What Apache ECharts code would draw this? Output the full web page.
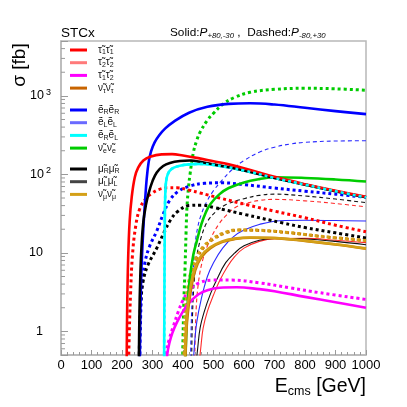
<!DOCTYPE html>
<html><head><meta charset="utf-8">
<script src="https://cdn.jsdelivr.net/npm/echarts@6/dist/echarts.min.js"></script>
<style>html,body{margin:0;padding:0;background:#fff}#c{width:407px;height:407px}</style>
</head><body><div id="c"></div>
<script>
// [E_cms (GeV), sigma (fb)] ; Pos = P(+80,-30) solid, Neg = P(-80,+30) dashed
const stau11Pos = [[215,0.3],[217,2],[220,8],[225,25],[232,52],[242,92],[253,122],[270,150],[292,168],[330,180],[364,181],[400,174],[450,161],[500,147],[550,134],[600,120],[700,93],[800,75],[900,62],[1000,52]];
const stau11Neg = [[221,0.3],[224,1],[228,3],[234,9],[245,22],[259,37],[280,50],[300,58],[320,64],[350,67.5],[380,67.5],[420,63],[456,58],[520,50],[610,41],[700,34],[800,28],[900,22.5],[1000,18.6]];
const stau22Pos = [[450,0.3],[458,0.6],[466,1.1],[480,1.8],[500,2.9],[520,4.4],[545,6.6],[570,9],[600,11.5],[650,14],[700,15.2],[800,15.3],[900,14.5],[1000,13.5]];
const stau22Neg = [[438,0.3],[442,1.5],[450,4],[466,8.5],[490,15],[520,24],[545,31],[570,37.5],[600,42],[650,46.5],[700,48],[800,46],[900,42.5],[1000,38.6]];
const stau12Pos = [[343,0.3],[348,0.5],[355,0.7],[365,0.95],[380,1.3],[400,1.8],[420,2.3],[450,2.95],[480,3.35],[520,3.6],[576,3.65],[650,3.45],[700,3.25],[800,2.75],[900,2.35],[1000,2.0]];
const stau12Neg = [[342,0.3],[346,0.55],[355,0.8],[368,1.15],[385,1.8],[400,2.5],[420,3.3],[450,4.1],[500,4.5],[560,4.5],[650,4.15],[750,3.6],[850,3.1],[1000,2.55]];
const nutauPos = [[407,0.3],[410,0.8],[415,1.6],[425,3.2],[440,6],[460,8.8],[490,11.5],[530,13.8],[570,15],[620,15.6],[700,15.4],[800,14.2],[900,12.8],[1000,11.3]];
const nutauNeg = [[404,0.3],[407,1],[412,2.2],[420,4],[432,6.3],[445,8.5],[470,12],[500,15],[540,18],[580,19.5],[650,19.3],[750,18],[850,16.2],[1000,14.3]];
const eRRPos = [[258,0.3],[260,1.5],[263,5],[267,12],[271,24],[276,48],[281,88],[287,140],[295,195],[307,255],[322,315],[342,385],[370,470],[420,610],[480,725],[550,790],[620,805],[700,775],[800,705],[900,640],[1000,585]];
const eRRNeg = [[258,0.3],[261,1.5],[266,4],[275,7.5],[290,12],[314,19],[335,31],[357,47],[385,61],[423,71],[470,77],[530,78],[600,74],[700,67],[800,61],[900,56],[1000,51]];
const eLLPos = [[432,0.3],[438,0.7],[445,1.3],[460,2.6],[480,5],[500,7.5],[530,11.5],[565,16],[600,19.5],[650,23],[718,25.7],[800,26],[900,25.8],[1000,25.5]];
const eLLNeg = [[424,0.3],[427,1.2],[432,4],[439,12],[448,21],[460,31],[478,45],[500,62],[530,86],[564,118],[600,150],[650,192],[700,222],[750,243],[800,256],[900,266],[1000,268]];
const eRLPos = [[338,0.3],[339,3],[340,15],[341,40],[343,70],[346,88],[350,100],[357,112],[370,122],[390,129],[420,134],[456,136],[500,132],[600,112],[700,90],[800,74],[900,61],[1000,51]];
const eRLNeg = [[338,0.3],[339,3],[340,15],[341,40],[343,70],[346,88],[350,100],[357,112],[370,122],[390,129],[420,134],[456,136],[500,132],[600,112],[700,90],[800,74],[900,61],[1000,51]];
const nueePos = [[407,0.3],[411,1],[416,2.5],[423,5],[434,9.5],[445,14],[460,23],[475,33],[490,42],[520,56],[550,67],[600,79],[650,87],[700,92],[800,90],[900,86],[1000,81]];
const nueeNeg = [[398,0.3],[400,0.8],[403,2.5],[407,7],[410,18],[413,38],[418,68],[423,100],[434,190],[445,270],[456,345],[480,490],[500,600],[532,790],[570,960],[620,1110],[700,1210],[800,1250],[900,1230],[1000,1180]];
const muRRPos = [[255,0.3],[257,1.5],[260,5],[264,12],[270,25],[278,40],[287,57],[300,82],[314,106],[335,128],[357,140],[390,148],[423,150],[460,144],[500,134],[600,112],[700,90],[800,74],[900,61],[1000,51]];
const muRRNeg = [[256,0.3],[258,1],[262,2.5],[270,4.5],[285,7],[314,11.5],[340,19],[360,26.5],[380,33],[420,40],[460,40.5],[500,38],[600,31],[728,24],[800,21],[900,18],[1000,15.5]];
const muLLPos = [[440,0.3],[448,0.6],[456,1.1],[470,1.8],[490,3],[510,4.5],[540,7.5],[570,10],[600,12.3],[650,14.5],[700,15.3],[800,15],[900,14],[1000,12.7]];
const muLLNeg = [[428,0.3],[431,1.5],[437,4.5],[445,9],[460,16],[480,25],[510,34],[543,41.5],[600,49],[650,54],[700,56],[800,53],[900,48.5],[1000,43.6]];
const numuPos = [[405,0.3],[408,0.8],[413,1.7],[423,3.4],[438,6.2],[458,9],[488,11.7],[528,14],[568,15.2],[620,15.7],[700,15.5],[800,14.3],[900,12.9],[1000,11.4]];
const numuNeg = [[402,0.3],[405,1],[410,2.3],[418,4.1],[430,6.5],[443,8.7],[468,12.2],[498,15.2],[538,18.2],[578,19.6],[650,19.4],[750,18.1],[850,16.3],[1000,14.4]];

const yMinorTicks = [0.6,0.7,0.8,0.9,2,3,4,5,6,7,8,9,20,30,40,50,60,70,80,90,200,300,400,500,600,700,800,900,2000,3000,4000];
const yMajorLabels = {0:'{b|1}{sp|}',1:'{b|10}{sp|}',2:'{b|10}{sup|2}',3:'{b|10}{sup|3}'};

const legendGroups = [
  ['stau11','stau22','stau12','nutau'],
  ['eRR','eLL','eRL','nuee'],
  ['muRR','muLL','numu']
];
const legendTexts = {
  stau11:'{t|τ̃}{s|1}{t|τ̃}{s|1}',
  stau22:'{t|τ̃}{s|2}{t|τ̃}{s|2}',
  stau12:'{t|τ̃}{s|1}{t|τ̃}{s|2}',
  nutau:'{t|ν̃}{s|τ}{t|ν̃}{s|τ}',
  eRR:'{t|ẽ}{s|R}{t|ẽ}{s|R}',
  eLL:'{t|ẽ}{s|L}{t|ẽ}{s|L}',
  eRL:'{t|ẽ}{s|R}{t|ẽ}{s|L}',
  nuee:'{t|ν̃}{s|e}{t|ν̃}{s|e}',
  muRR:'{t|μ̃}{s|R}{t|μ̃}{s|R}',
  muLL:'{t|μ̃}{s|L}{t|μ̃}{s|L}',
  numu:'{t|ν̃}{s|μ}{t|ν̃}{s|μ}'
};
const legendColors = {stau11:'#ff0000',stau22:'#ff7a7a',stau12:'#ff00ff',nutau:'#c86400',eRR:'#0000ff',eLL:'#6a6aff',eRL:'#00ffff',nuee:'#00cc00',muRR:'#000000',muLL:'#444444',numu:'#d4a017'};

const FONT = 'Liberation Sans, Arial, Helvetica, sans-serif';
const DOT = [3,3];
const DASH = [4,3];

function line(name, data, color, width, type, z) {
  return {
    type:'line', name:name, data:data, smooth:0.4, symbol:'none', showSymbol:false,
    silent:true, z:z||2, animation:false, clip:true,
    lineStyle:{color:color, width:width, type:type||'solid', cap:'butt', join:'round'}
  };
}

const series = [
  line('eLL-neg', eLLNeg, '#2a2aff', 1.1, DASH),
  line('stau22-neg', stau22Neg, '#ff2a2a', 1.1, DASH),
  line('muLL-neg', muLLNeg, '#111111', 1.1, DASH),
  line('eLL', eLLPos, '#2a2aff', 1.1),
  line('stau22', stau22Pos, '#ff2a2a', 1.1),
  line('muLL', muLLPos, '#111111', 1.1),
  line('nuee-neg', nueeNeg, '#00cc00', 3, DOT),
  line('eRR-neg', eRRNeg, '#0000ff', 3, DOT),
  line('muRR-neg', muRRNeg, '#000000', 3, DOT),
  line('stau11-neg', stau11Neg, '#ff0000', 3, DOT),
  line('stau12-neg', stau12Neg, '#ff00ff', 3, DOT),
  line('nutau-neg', nutauNeg, '#cc7a00', 3, DOT),
  line('numu-neg', numuNeg, '#d4a017', 3, DOT),
  line('nuee', nueePos, '#00cc00', 2.6),
  line('eRR', eRRPos, '#0000ff', 2.6),
  line('stau12', stau12Pos, '#ff00ff', 2.6),
  line('nutau', nutauPos, '#c87800', 2.6),
  line('numu', numuPos, '#d4a017', 2.6),
  line('eRL', eRLPos, '#00ffff', 2.6),
  line('muRR', muRRPos, '#000000', 2.6),
  line('stau11', stau11Pos, '#ff0000', 2.6),
  line('eRL-neg', eRLNeg, '#00ffff', 2.6, DOT),
  {
    type:'custom', name:'yminor', silent:true, clip:false, z:6, animation:false,
    data: yMinorTicks.map(v => [0, v]),
    renderItem: function(params, api) {
      const p = api.coord([api.value(0), api.value(1)]);
      return {type:'line', shape:{x1:p[0], y1:p[1], x2:p[0]+4, y2:p[1]}, style:{stroke:'#9a9a9a', lineWidth:1}};
    }
  }
];

const legendTops = [44, 104, 163];
const legends = legendGroups.map((g, i) => ({
  orient:'vertical', left:70, top:legendTops[i], padding:0, itemGap:0.7,
  itemWidth:17, itemHeight:3, selectedMode:false, icon:'rect',
  data: g.map(n => ({name:n, itemStyle:{color:legendColors[n], borderWidth:0}})),
  formatter: n => '{sp|}' + legendTexts[n],
  textStyle:{
    color:'#000', fontFamily:FONT,
    rich:{
      sp:{width:6, lineHeight:12},
      t:{fontSize:10, lineHeight:12, fontFamily:FONT, color:'#111'},
      s:{fontSize:7, lineHeight:7, verticalAlign:'bottom', fontFamily:FONT, color:'#111'}
    }
  }
}));

const chart = echarts.init(document.getElementById('c'), null, {renderer:'canvas'});
chart.setOption({
  backgroundColor:'#ffffff',
  animation:false,
  grid:{left:61, right:41, top:41, bottom:52, show:true, borderColor:'#b8b8b8', borderWidth:1.5, backgroundColor:'transparent'},
  title:[
    {text:'STCx', left:56, top:21, textStyle:{fontSize:13.5, fontWeight:'normal', fontFamily:FONT, color:'#000'}},
    {text:'{n|Solid:}{i|P}{s|+80,-30}{n| ,  Dashed:}{i|P}{s|-80,+30}', left:165, top:21,
     textStyle:{fontWeight:'normal', rich:{
       n:{fontSize:11.8, lineHeight:14, fontFamily:FONT, color:'#000'},
       i:{fontSize:11.8, lineHeight:14, fontStyle:'italic', fontFamily:FONT, color:'#000'},
       s:{fontSize:7.8, lineHeight:3, verticalAlign:'bottom', fontStyle:'italic', fontFamily:FONT, color:'#000'}
     }}}
  ],
  legend: legends,
  xAxis:{
    type:'value', min:0, max:1000, interval:100,
    axisLine:{show:true, lineStyle:{color:'#b8b8b8', width:1.5}},
    axisTick:{show:true, inside:true, length:5, lineStyle:{color:'#9a9a9a'}},
    minorTick:{show:true, splitNumber:5, length:3, lineStyle:{color:'#9a9a9a'}},
    splitLine:{show:false},
    axisLabel:{color:'#000', fontSize:13, fontFamily:FONT, margin:4, formatter: v => String(v)}
  },
  yAxis:{
    type:'log', logBase:10, min:0.5, max:5000,
    axisLine:{show:true, lineStyle:{color:'#b8b8b8', width:1.5}},
    axisTick:{show:true, inside:true, length:7, lineStyle:{color:'#9a9a9a'}},
    splitLine:{show:false},
    axisLabel:{
      margin:10, fontFamily:FONT,
      formatter: function(v){
        const l = Math.log10(v); const r = Math.round(l);
        if (Math.abs(l - r) > 1e-6) return '';
        return yMajorLabels[r] || '';
      },
      rich:{
        b:{fontSize:12.5, lineHeight:16, color:'#000', fontFamily:FONT},
        sup:{fontSize:9, lineHeight:8, verticalAlign:'top', color:'#000', padding:[0,0,0,2], fontFamily:FONT},
        sp:{width:8, lineHeight:16}
      }
    }
  },
  graphic:[
    {type:'text', x:20, y:65, rotation:Math.PI/2, style:{text:'σ [fb]', fontSize:19, fontFamily:FONT, fill:'#000', align:'center', verticalAlign:'middle'}},
    {type:'text', x:366, y:387, style:{text:'{e|E}{s|cms}{e| [GeV]}', align:'right', verticalAlign:'middle',
      rich:{e:{fontSize:19.5, lineHeight:22, fontFamily:FONT, fill:'#000', color:'#000'}, s:{fontSize:12.5, lineHeight:10, verticalAlign:'bottom', fontFamily:FONT, color:'#000', fill:'#000'}}}}
  ],
  series: series
});
</script></body></html>
